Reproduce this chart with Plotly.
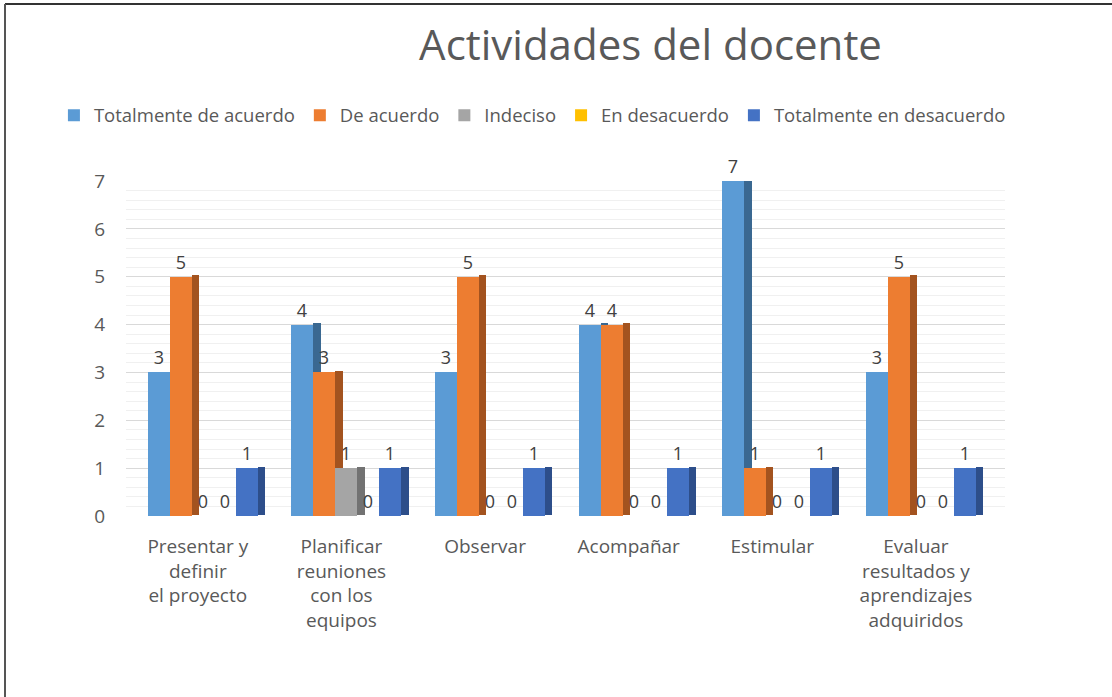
import plotly.graph_objects as go

categories = ["Presentar y<br>definir<br>el proyecto",
              "Planificar<br>reuniones<br>con los<br>equipos",
              "Observar", "Acompañar", "Estimular",
              "Evaluar<br>resultados y<br>aprendizajes<br>adquiridos"]
series_names = ["Totalmente de acuerdo", "De acuerdo", "Indeciso",
                "En desacuerdo", "Totalmente en desacuerdo"]
totalmente_de_acuerdo = [3, 4, 3, 4, 7, 3]
de_acuerdo = [5, 3, 5, 4, 1, 5]
indeciso = [0, 1, 0, 0, 0, 0]
en_desacuerdo = [0, 0, 0, 0, 0, 0]
totalmente_en_desacuerdo = [1, 1, 1, 1, 1, 1]
series_values = [totalmente_de_acuerdo, de_acuerdo, indeciso,
                 en_desacuerdo, totalmente_en_desacuerdo]
y_ticks = [0, 1, 2, 3, 4, 5, 6, 7]

front_colors = ["#5B9BD5", "#ED7D31", "#A5A5A5", "#FFC000", "#4472C4"]
side_colors = ["#3A6891", "#A3531F", "#727272", "#B08400", "#2D4E8A"]

FONT = "Open Sans"
TXT = "#595959"

bar_w = 0.153
side_w = 0.05
rise = 0.06
start = -0.348

fig = go.Figure()

# side faces (drawn first, behind fronts)
for j, (name, vals) in enumerate(zip(series_names, series_values)):
    fig.add_trace(go.Bar(
        x=categories, y=vals, base=[rise * 0.5] * len(vals),
        width=side_w, offset=start + (j + 1) * bar_w,
        marker=dict(color=side_colors[j], line=dict(width=0)),
        showlegend=False, hoverinfo="skip",
    ))

# front faces
for j, (name, vals) in enumerate(zip(series_names, series_values)):
    fig.add_trace(go.Bar(
        name=name, x=categories, y=vals,
        width=bar_w, offset=start + j * bar_w,
        marker=dict(color=front_colors[j], line=dict(width=0)),
        text=[str(v) for v in vals], textposition="outside",
        textfont=dict(family=FONT, size=18, color="#404040"),
        cliponaxis=False,
    ))

fig.update_layout(
    width=1112, height=697,
    barmode="overlay",
    paper_bgcolor="white", plot_bgcolor="white",
    margin=dict(l=126, r=107, t=181, b=181),
    font=dict(family=FONT, color=TXT),
    title=dict(text="Actividades del docente", x=0.585, xref="container",
               xanchor="center", y=0.935, yref="container", yanchor="middle",
               font=dict(family=FONT, size=42, color=TXT)),
    legend=dict(orientation="h", x=-0.082, xanchor="left",
                y=1.195, yanchor="middle",
                font=dict(family=FONT, size=18.5, color=TXT),
                traceorder="normal", itemclick=False),
    showlegend=True,
    bargap=0,
)
fig.update_xaxes(range=[-0.5, 5.62], showgrid=False, zeroline=False,
                 showline=False, ticks="", ticklabelstandoff=17,
                 tickfont=dict(family=FONT, size=19, color=TXT))
fig.update_yaxes(range=[0, 7], tickvals=y_ticks, showgrid=True,
                 gridcolor="#D9D9D9", gridwidth=1, zeroline=False,
                 showline=False, ticks="", ticklabelstandoff=20,
                 tickfont=dict(family=FONT, size=19, color=TXT),
                 minor=dict(dtick=0.2, showgrid=True, gridcolor="#F0F0F0"))

# outer frame of the picture
fig.add_shape(type="line", xref="paper", yref="paper",
              x0=(5 - 126) / 879, x1=(1112 - 126) / 879,
              y0=(516 - 4) / 335, y1=(516 - 4) / 335,
              line=dict(color="#333333", width=2))
fig.add_shape(type="line", xref="paper", yref="paper",
              x0=(5 - 126) / 879, x1=(5 - 126) / 879,
              y0=(516 - 4) / 335, y1=(516 - 697) / 335,
              line=dict(color="#555555", width=2))

fig.write_html("out.html", config={"displayModeBar": False},
               post_script="document.body.style.margin='0';")
